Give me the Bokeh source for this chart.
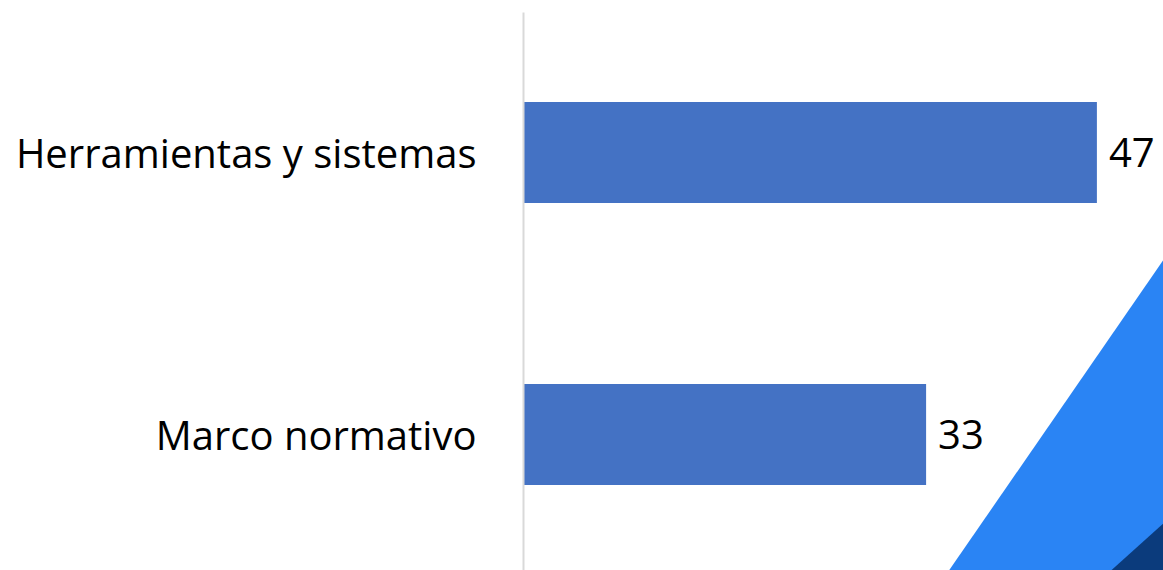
from bokeh.plotting import figure
from bokeh.models import FixedTicker, Range1d, ColumnDataSource
from bokeh.core.properties import value
from bokeh.embed import file_html
from bokeh.resources import INLINE

# ---- data ----
categories = ["Herramientas y sistemas", "Marco normativo"]
values = [47, 33]
positions = [1, 0]
value_labels = [str(v) for v in values]

FONT = "Open Sans"

W, H = 1163, 570
p = figure(width=W, height=H, output_backend="svg", toolbar_location=None,
           x_range=Range1d(0, (1163 - 523) / 12.2), y_range=Range1d(-(570 - 434) / 282.0, 1.4965),
           min_border_left=523, min_border_right=0, min_border_top=12, min_border_bottom=0)
p.background_fill_color = "#ffffff"
p.border_fill_color = "#ffffff"
p.outline_line_color = None
p.grid.visible = False
p.xaxis.visible = False

# decorative background triangles (screen px -> data)
def sx(x):
    return (x - 523) / 12.2
def sy(y):
    return 1 - (y - 152) / 282.0

p.patch([sx(945), sx(1175), sx(1175)], [sy(575), sy(242), sy(575)],
        fill_color="#2a84f4", line_color=None)
p.patch([sx(1105), sx(1175), sx(1175)], [sy(575), sy(512), sy(575)],
        fill_color="#0b3b7c", line_color=None)

src = ColumnDataSource(dict(y=positions, v=values, lab=value_labels))
p.hbar(y="y", right="v", left=0, height=0.358, source=src,
       fill_color="#4472C4", line_color=None)
p.text(x="v", y="y", text="lab", source=src, x_offset=12,
       text_font=value(FONT), text_font_size="40px", text_color="#000000",
       text_align="left", text_baseline="middle")

ax = p.yaxis[0]
ax.ticker = FixedTicker(ticks=positions)
ax.major_label_overrides = {pos: cat for pos, cat in zip(positions, categories)}
ax.major_tick_line_color = None
ax.minor_tick_line_color = None
ax.major_tick_out = 0
ax.major_tick_in = 0
ax.major_label_standoff = 47
ax.axis_line_color = "#d9d9d9"
ax.axis_line_width = 2
ax.major_label_text_font = FONT
ax.major_label_text_font_size = "40px"
ax.major_label_text_color = "#000000"

open("out.html", "w").write(file_html(p, INLINE))
